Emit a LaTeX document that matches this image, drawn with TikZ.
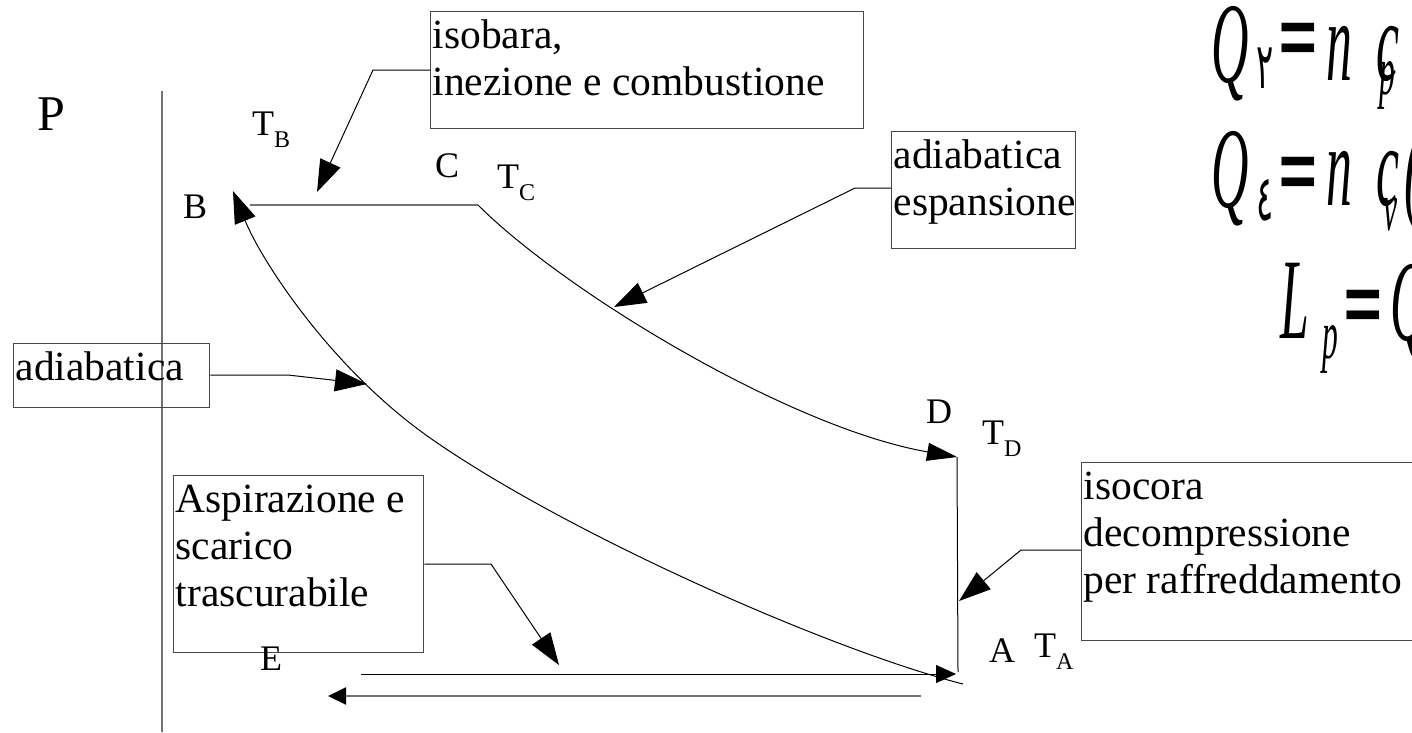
\documentclass[tikz,border=0pt]{standalone}
\usepackage{fontspec}
\setmainfont{Liberation Serif}
\newfontfamily\formfont[FakeStretch=0.45]{Liberation Serif}
\newfontfamily\arabfont[FakeStretch=0.5]{DejaVu Sans}
\newfontfamily\eqfont{DejaVu Sans}
\usetikzlibrary{arrows.meta}
\newcommand\boxfnt{\fontsize{41.5}{47}\selectfont}
\newcommand\lblfnt{\fontsize{36}{40}\selectfont}
\newcommand\bxt[3]{\parbox[t][#2][t]{#1}{\boxfnt\raggedright\leftskip=2pt\rule{0pt}{37pt}#3}}
\newcommand\Tsub[1]{T\raisebox{-12pt}{\fontsize{24}{26}\selectfont #1}}
\newcommand\ffnt[1]{\formfont\itshape\fontsize{#1}{#1}\selectfont}
\newcommand\bigeq{\scalebox{1}[2]{\eqfont\fontsize{52}{52}\selectfont =}}
\begin{document}
\begin{tikzpicture}[x=1pt,y=-1pt,
  box/.style={draw=black!72,line width=1.3pt,inner sep=0pt,anchor=north west},
  lbl/.style={font=\lblfnt,inner sep=0pt,anchor=base west},
  fml/.style={inner sep=0pt,anchor=base west},
  eqs/.style={inner sep=0pt,anchor=north},
  lead/.style={draw=black,line width=1pt,-{Triangle[length=32pt,width=22pt]}},
  thinline/.style={draw=black,line width=1pt},
  grayline/.style={draw=black!55,line width=2pt}]
\useasboundingbox (0,0) rectangle (1412,732);
\fill[white] (0,0) rectangle (1412,732);

% axis
\coordinate (ax1) at (162,91);
\coordinate (ax2) at (162,732);
\draw[grayline] (ax1) -- (ax2);

% boxes
\node[box] (isob) at (430,11) {\bxt{433pt}{117pt}{isobara,\\inezione e combustione}};
\node[box] (esp) at (891,131) {\bxt{184pt}{117pt}{adiabatica\\espansione}};
\node[box] (adia) at (13,343) {\bxt{196pt}{64pt}{adiabatica}};
\node[box] (asp) at (173,475) {\bxt{250pt}{177pt}{Aspirazione e\\scarico\\trascurabile}};
\node[box] (isoc) at (1081,462) {\bxt{345pt}{178pt}{isocora\\decompressione\\per raffreddamento}};

% cycle points
\coordinate (B) at (233,191);
\coordinate (Bs) at (250,205);
\coordinate (C) at (478,205);
\coordinate (D) at (957,457);
\coordinate (A) at (958,672);
\coordinate (Aend) at (963,684);
\coordinate (M) at (433,440);

\draw[grayline] (Bs) -- (C);
\draw[thinline,-{Triangle[length=30pt,width=18pt]}] (C) .. controls (565,292) and (790,428) .. (D);
\draw[thinline] (D) -- (A);
\draw[thinline,-{Triangle[length=32pt,width=22pt]}] (Aend) .. controls (830,650) and (570,535) .. (M) .. controls (333,371) and (262,262) .. (B);

% bottom lines
\coordinate (E1) at (361,674);
\coordinate (A1) at (956,674);
\coordinate (A2) at (921,696);
\coordinate (E2) at (328,696);
\draw[thinline,-{Triangle[length=20pt,width=18pt]}] (E1) -- (A1);
\draw[grayline,-{Triangle[length=18pt,width=17pt,color=black]}] (A2) -- (E2);

% leaders
\coordinate (isobK) at (373,70);  \coordinate (isobT) at (317,192);
\coordinate (espK) at (855,188);  \coordinate (espT) at (614,307);
\coordinate (adiaK) at (288,375); \coordinate (adiaT) at (367,384);
\coordinate (aspK) at (491,564);  \coordinate (aspT) at (559,665);
\coordinate (isocK) at (1021,550); \coordinate (isocT) at (959,601);
\draw[lead] (isobK -| isob.west) -- (isobK) -- (isobT);
\draw[lead] (espK -| esp.west) -- (espK) -- (espT);
\draw[lead] (adiaK -| adia.east) -- (adiaK) -- (adiaT);
\draw[lead] (aspK -| asp.east) -- (aspK) -- (aspT);
\draw[lead] (isocK -| isoc.west) -- (isocK) -- (isocT);

% labels
\node[lbl,font=\fontsize{50}{54}\selectfont] (lP) at (37,130) {P};
\node[lbl] (lTB) at (252,135) {\Tsub{B}};
\node[lbl] (lB) at (183,218) {B};
\node[lbl] (lC) at (435,177) {C};
\node[lbl] (lTC) at (497,188) {\Tsub{C}};
\node[lbl] (lD) at (926,423) {D};
\node[lbl] (lTD) at (982,444) {\Tsub{D}};
\node[lbl] (lA) at (989,662) {A};
\node[lbl] (lTA) at (1034,657) {\Tsub{A}};
\node[lbl] (lE) at (260,670) {E};

% formulas
\node[fml,font=\ffnt{115}] (q1) at (1211,82) {Q};
\node[fml,font=\arabfont\fontsize{64}{64}\selectfont] (q1s) at (1256,88) {٢};
\node[eqs] (eq1) at (1298,23) {\bigeq};
\node[fml,font=\ffnt{115}] (n1) at (1326,80) {n};
\node[fml,font=\ffnt{115}] (c1) at (1376,80) {c};
\node[fml,font=\ffnt{70}] (p1) at (1379,94) {p};

\node[fml,font=\ffnt{115}] (q2) at (1211,207) {Q};
\node[fml,font=\arabfont\fontsize{64}{64}\selectfont] (q2s) at (1256,220) {٤};
\node[eqs] (eq2) at (1298,157) {\bigeq};
\node[fml,font=\ffnt{115}] (n2) at (1326,205) {n};
\node[fml,font=\ffnt{115}] (c2) at (1376,205) {c};
\node[fml,font=\ffnt{70}] (v2) at (1383,230) {v};
\node[fml,font=\ffnt{115}] (par2) at (1404,207) {(};

\node[fml,font=\ffnt{115}] (L3) at (1280,338) {L};
\node[fml,font=\ffnt{70}] (p3) at (1322,358) {p};
\node[eqs] (eq3) at (1363,290) {\bigeq};
\node[fml,font=\ffnt{115}] (q3) at (1390,340) {Q};
\end{tikzpicture}
\end{document}
